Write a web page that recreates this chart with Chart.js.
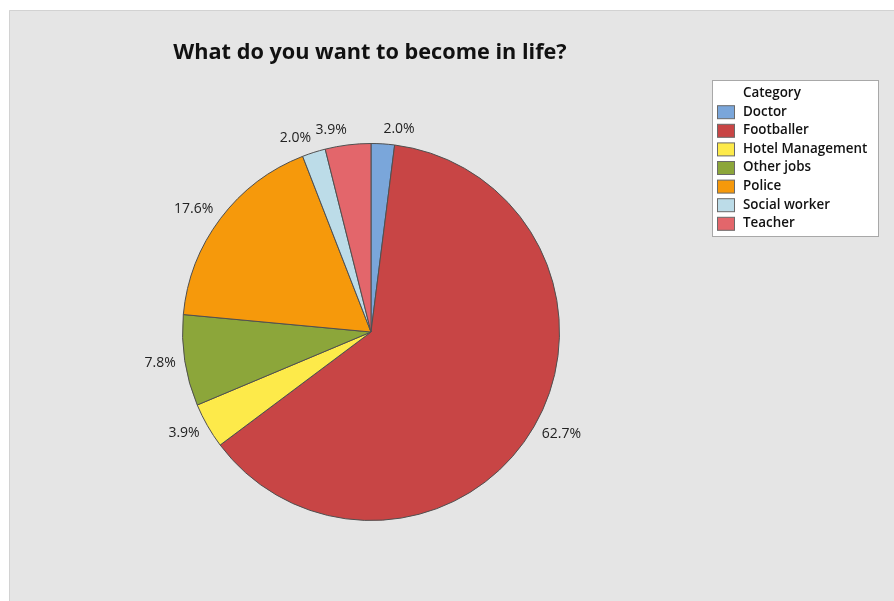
<!DOCTYPE html>
<html>
<head>
<meta charset="utf-8">
<script src="https://cdn.jsdelivr.net/npm/chart.js@4/dist/chart.umd.min.js"></script>
<style>
  html, body { margin: 0; padding: 0; background: #ffffff; }
  #wrap { width: 894px; height: 601px; position: relative; }
</style>
</head>
<body>
<div id="wrap"><canvas id="pie" width="894" height="601"></canvas></div>
<script>
// Survey answers: share of pupils (%) per career choice
const categories = ['Doctor', 'Footballer', 'Hotel Management', 'Other jobs', 'Police', 'Social worker', 'Teacher'];
const percents = [2.0, 62.7, 3.9, 7.8, 17.6, 2.0, 3.9];
const sliceColors = ['#7aa6da', '#c84545', '#fdea4a', '#8ca63a', '#f6990b', '#bcdce8', '#e3666b'];
const chartTitle = 'What do you want to become in life?';
const legendTitle = 'Category';

const FONT = '"Open Sans", "Noto Sans", sans-serif';

// Grey panel behind everything
const panelBackground = {
  id: 'panelBackground',
  beforeDraw(chart) {
    const ctx = chart.ctx;
    ctx.save();
    ctx.fillStyle = '#ffffff';
    ctx.fillRect(0, 0, chart.width, chart.height);
    ctx.fillStyle = '#e5e5e5';
    ctx.fillRect(9, 10, chart.width - 9, chart.height - 10);
    ctx.strokeStyle = '#d2d2d2';
    ctx.lineWidth = 1;
    ctx.beginPath();
    ctx.moveTo(9.5, chart.height);
    ctx.lineTo(9.5, 10.5);
    ctx.lineTo(chart.width, 10.5);
    ctx.stroke();
    ctx.restore();
  }
};

// Percentage labels just outside each slice, anchored by their nearest corner
const sliceLabels = {
  id: 'sliceLabels',
  afterDatasetsDraw(chart) {
    const ctx = chart.ctx;
    const meta = chart.getDatasetMeta(0);
    const values = chart.data.datasets[0].data;
    ctx.save();
    ctx.font = '14px ' + FONT;
    ctx.fillStyle = '#222222';
    ctx.textAlign = 'center';
    ctx.textBaseline = 'middle';
    meta.data.forEach((arc, i) => {
      const p = arc.getProps(['x', 'y', 'startAngle', 'endAngle', 'outerRadius'], true);
      const mid = (p.startAngle + p.endAngle) / 2;
      const r = p.outerRadius + 9;
      const ax = p.x + Math.cos(mid) * r;
      const ay = p.y + Math.sin(mid) * r;
      const text = values[i].toFixed(1) + '%';
      const w = ctx.measureText(text).width;
      const h = 12;
      const cx = ax + (Math.cos(mid) >= 0 ? 1 : -1) * w / 2;
      const cy = ay + Math.sin(mid) * h / 2;
      ctx.fillText(text, cx, cy);
    });
    ctx.restore();
  }
};

// Title and the boxed category legend
const titleAndLegend = {
  id: 'titleAndLegend',
  afterDraw(chart) {
    const ctx = chart.ctx;
    ctx.save();
    ctx.fillStyle = '#111111';
    ctx.font = 'bold 21.7px ' + FONT;
    ctx.textAlign = 'center';
    ctx.textBaseline = 'alphabetic';
    ctx.fillText(chartTitle, 370, 59);

    const bx = 712.5, by = 80.5, bw = 166, bh = 156;
    ctx.fillStyle = '#ffffff';
    ctx.fillRect(bx, by, bw, bh);
    ctx.strokeStyle = '#a8a8a8';
    ctx.lineWidth = 1;
    ctx.strokeRect(bx, by, bw, bh);

    ctx.textAlign = 'left';
    ctx.textBaseline = 'middle';
    ctx.fillStyle = '#111111';
    ctx.font = '600 13.4px ' + FONT;
    ctx.fillText(legendTitle, 743, 93);

    const labels = chart.data.labels;
    const colors = chart.data.datasets[0].backgroundColor;
    const rowStep = 18.6;
    labels.forEach((lab, i) => {
      const cy = 111.7 + i * rowStep;
      ctx.fillStyle = colors[i];
      ctx.fillRect(717.5, cy - 6, 17, 13);
      ctx.strokeStyle = '#6a6a6a';
      ctx.strokeRect(717.5, cy - 6, 17, 13);
      ctx.fillStyle = '#111111';
      ctx.fillText(lab, 743, cy);
    });
    ctx.restore();
  }
};

new Chart(document.getElementById('pie'), {
  type: 'pie',
  data: {
    labels: categories,
    datasets: [{
      data: percents,
      backgroundColor: sliceColors,
      borderColor: '#505050',
      borderWidth: 1
    }]
  },
  options: {
    responsive: false,
    animation: false,
    layout: { padding: { left: 182, right: 334, top: 143, bottom: 80 } },
    plugins: {
      legend: { display: false },
      title: { display: false },
      tooltip: { enabled: false }
    }
  },
  plugins: [panelBackground, sliceLabels, titleAndLegend]
});
</script>
</body>
</html>
